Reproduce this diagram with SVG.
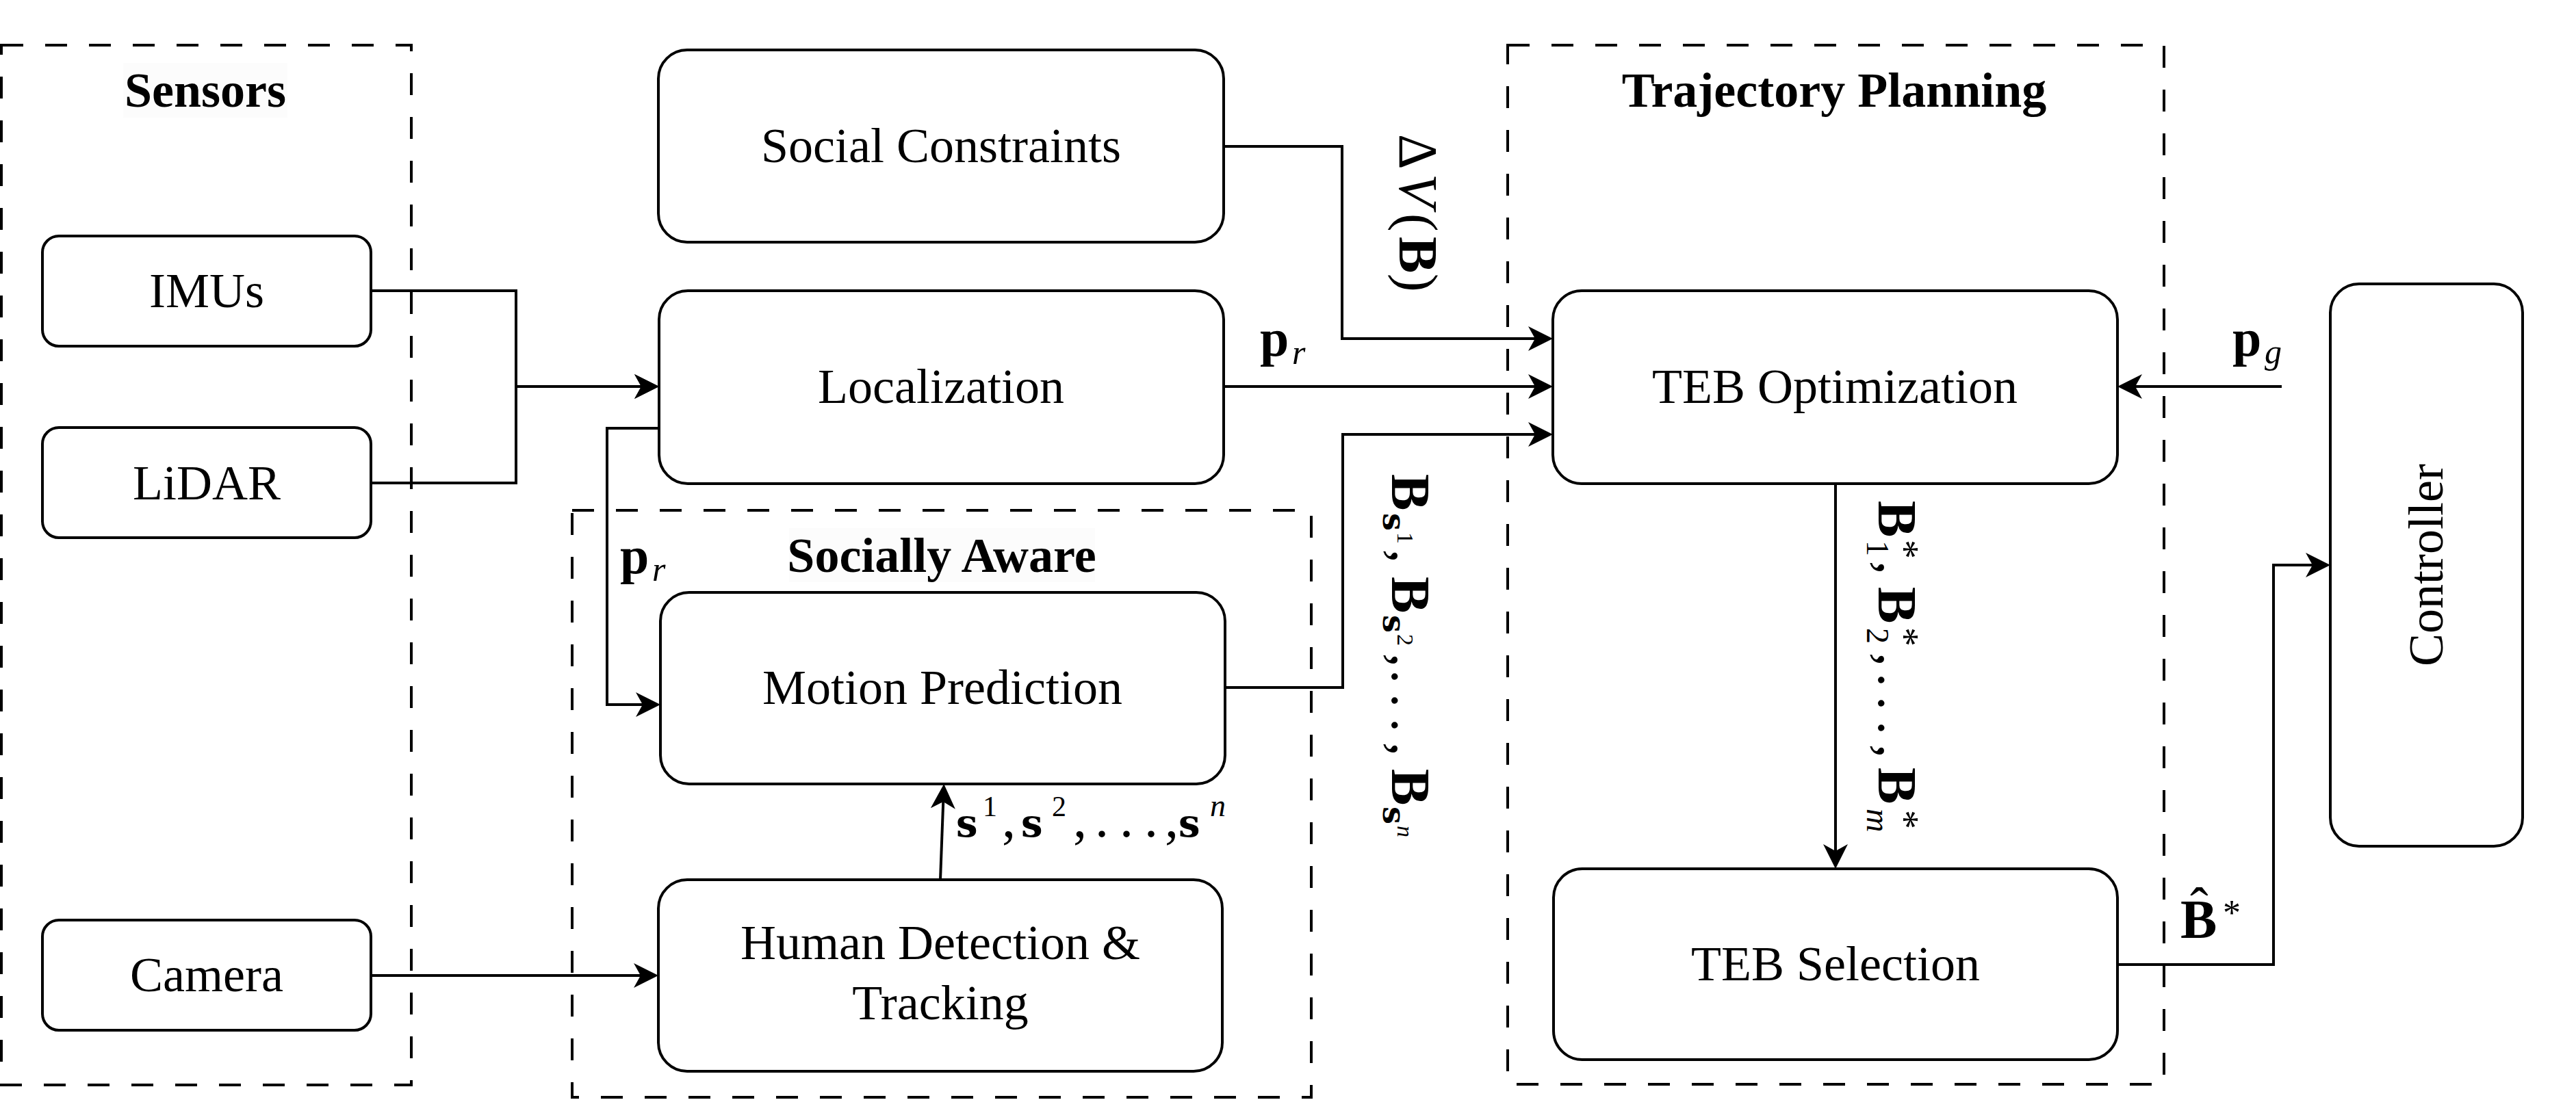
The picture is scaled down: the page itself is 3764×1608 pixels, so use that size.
<svg xmlns="http://www.w3.org/2000/svg" width="3764" height="1608" viewBox="0 0 3764 1608">
<defs>
<style>
.box{fill:#fff;stroke:#000;stroke-width:4}
.grp{fill:none;stroke:#000;stroke-width:4;stroke-dasharray:32 32}
.edge{fill:none;stroke:#000;stroke-width:4;marker-end:url(#arr)}
.t{font-family:"Liberation Serif",serif;font-size:72px;text-anchor:middle;fill:#000}
.hd{font-weight:bold}
.lbg{fill:#fcfcfc}
.m{font-family:"Liberation Serif",serif;fill:#000;font-size:80px}
.b{font-weight:bold}
.i{font-style:italic}
.ds{font-family:"DejaVu Serif",serif;font-weight:bold}
</style>
<marker id="arr" viewBox="0 0 36 36" markerWidth="36" markerHeight="36" refX="30" refY="18" orient="auto" markerUnits="userSpaceOnUse">
<path d="M0,0 L36,18 L0,36 L10,18 Z" fill="#000"/>
</marker>
</defs>
<rect width="3764" height="1608" fill="#fff"/>

<g id="group-sensors">
<rect class="grp" x="2" y="66" width="599" height="1520"/>
<rect class="lbg" x="180" y="92" width="240" height="80"/>
<text class="t hd" x="300" y="156">Sensors</text>
</g>
<g id="group-socially-aware">
<rect class="grp" x="836" y="746" width="1080" height="858"/>
<rect class="lbg" x="1153" y="772" width="447" height="79"/>
<text class="t hd" x="1376" y="836">Socially Aware</text>
</g>
<g id="group-trajectory-planning">
<rect class="grp" x="2203" y="66" width="959" height="1519"/>
<text class="t hd" x="2680" y="156">Trajectory Planning</text>
</g>

<g id="connectors">
<path class="edge" d="M542,425 H754 V565 H957"/>
<path class="edge" d="M542,706 H754 V565 H957"/>
<path class="edge" d="M1788,214 H1961 V495 H2263"/>
<path class="edge" d="M1788,565 H2263"/>
<path class="edge" d="M1790,1005 H1962 V635 H2263"/>
<path class="edge" d="M963,626 H887 V1030 H959"/>
<path class="edge" d="M542,1426 H956"/>
<path class="edge" d="M1374,1286 L1379,1152"/>
<path class="edge" d="M3334,565 H3100"/>
<path class="edge" d="M2682,707 V1264"/>
<path class="edge" d="M3094,1410 H3322 V826 H3399"/>

<text class="m" x="1841" y="520"><tspan class="b" font-size="76">p</tspan><tspan class="i" font-size="50" x="1888" y="532">r</tspan></text>
<text class="m" x="906" y="838"><tspan class="b" font-size="76">p</tspan><tspan class="i" font-size="50" x="953" y="849">r</tspan></text>
<text class="m" x="3262" y="520"><tspan class="b" font-size="76">p</tspan><tspan class="i" font-size="50" x="3309" y="531">g</tspan></text>

<text class="m" font-size="66"><tspan class="ds" font-size="56" x="1397" y="1223">s</tspan><tspan font-size="42" x="1436" y="1193">1</tspan><tspan x="1464" y="1223">,</tspan><tspan class="ds" font-size="56" x="1492" y="1223">s</tspan><tspan font-size="42" x="1537" y="1193">2</tspan><tspan x="1568" y="1223">,</tspan><tspan x="1600" y="1223">.</tspan><tspan x="1636" y="1223">.</tspan><tspan x="1672" y="1223">.</tspan><tspan x="1702" y="1223">,</tspan><tspan class="ds" font-size="56" x="1722" y="1223">s</tspan><tspan class="i" font-size="46" x="1768" y="1193">n</tspan></text>

<text class="m" font-size="84" transform="translate(2045,196) rotate(90)"><tspan x="0" y="0">Δ</tspan><tspan class="i" x="58" y="0">V</tspan><tspan x="116" y="0">(</tspan><tspan class="b" x="150" y="0">B</tspan><tspan x="204" y="0">)</tspan></text>

<text class="m" font-size="82" transform="translate(2034,693) rotate(90)"><tspan class="b" x="0" y="0">B</tspan><tspan class="ds" font-size="46" x="57" y="13">s</tspan><tspan font-size="34" x="85" y="-8">1</tspan><tspan x="110" y="0">,</tspan><tspan class="b" x="150" y="0">B</tspan><tspan class="ds" font-size="46" x="206" y="13">s</tspan><tspan font-size="34" x="234" y="-8">2</tspan><tspan x="262" y="0">,</tspan><tspan x="286" y="0">.</tspan><tspan x="321" y="0">.</tspan><tspan x="357" y="0">.</tspan><tspan x="392" y="0">,</tspan><tspan class="b" x="431" y="0">B</tspan><tspan class="ds" font-size="46" x="486" y="13">s</tspan><tspan class="i" font-size="34" x="514" y="-8">n</tspan></text>

<text class="m" font-size="80" transform="translate(2745,732) rotate(90)"><tspan class="b" x="0" y="0">B</tspan><tspan font-size="46" x="58" y="17">1</tspan><tspan font-size="56" x="57" y="-19">*</tspan><tspan x="88" y="0">,</tspan><tspan class="b" x="126" y="0">B</tspan><tspan font-size="46" x="186" y="17">2</tspan><tspan font-size="56" x="185" y="-19">*</tspan><tspan x="222" y="0">,</tspan><tspan x="252" y="0">.</tspan><tspan x="286" y="0">.</tspan><tspan x="322" y="0">.</tspan><tspan x="356" y="0">,</tspan><tspan class="b" x="390" y="0">B</tspan><tspan class="i" font-size="48" x="450" y="17">m</tspan><tspan font-size="56" x="452" y="-19">*</tspan></text>

<text class="m" font-size="78"><tspan class="b" x="3186" y="1371">B</tspan><tspan font-size="52" x="3248" y="1352">*</tspan><tspan x="3200" y="1353">ˆ</tspan></text>
</g>

<g id="node-imus"><rect class="box" x="62" y="345" width="480" height="161" rx="24"/><text class="t" x="302" y="449">IMUs</text></g>
<g id="node-lidar"><rect class="box" x="62" y="625" width="480" height="161" rx="24"/><text class="t" x="302" y="730">LiDAR</text></g>
<g id="node-camera"><rect class="box" x="62" y="1345" width="480" height="161" rx="24"/><text class="t" x="302" y="1449">Camera</text></g>
<g id="node-social-constraints"><rect class="box" x="962" y="73" width="826" height="281" rx="42"/><text class="t" x="1375" y="237">Social Constraints</text></g>
<g id="node-localization"><rect class="box" x="963" y="425" width="825" height="282" rx="42"/><text class="t" x="1375" y="589">Localization</text></g>
<g id="node-motion-prediction"><rect class="box" x="965" y="866" width="825" height="280" rx="42"/><text class="t" x="1377" y="1029">Motion Prediction</text></g>
<g id="node-human-detection"><rect class="box" x="962" y="1286" width="824" height="280" rx="42"/><text class="t" x="1374" y="1402">Human Detection &amp;</text><text class="t" x="1374" y="1490">Tracking</text></g>
<g id="node-teb-optimization"><rect class="box" x="2269" y="425" width="825" height="282" rx="42"/><text class="t" x="2681" y="589">TEB Optimization</text></g>
<g id="node-teb-selection"><rect class="box" x="2270" y="1270" width="824" height="279" rx="42"/><text class="t" x="2682" y="1433">TEB Selection</text></g>
<g id="node-controller"><rect class="box" x="3405" y="415" width="281" height="822" rx="42"/><text class="t" transform="translate(3569,826) rotate(-90)">Controller</text></g>
</svg>
